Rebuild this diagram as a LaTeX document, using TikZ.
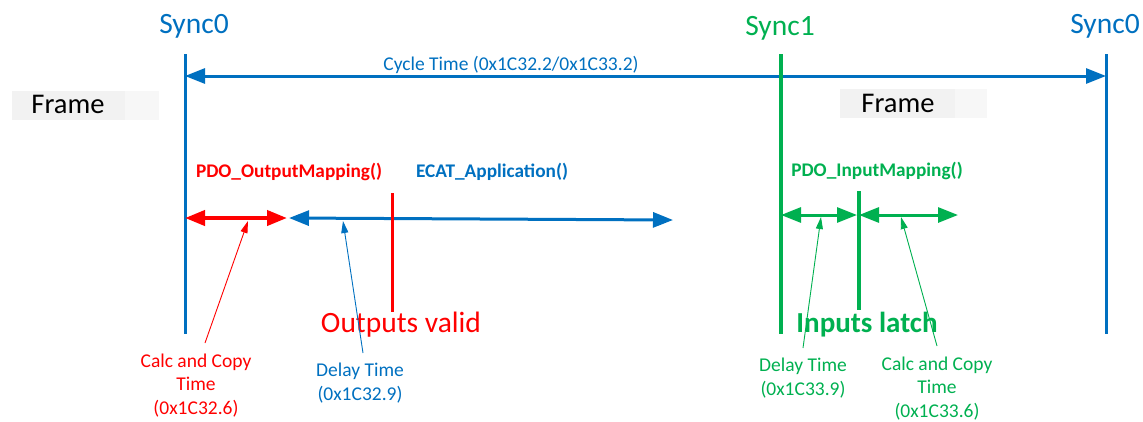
\documentclass[tikz,border=0pt]{standalone}
\usepackage{fontspec}
\setmainfont{Carlito}
\usetikzlibrary{arrows.meta}
\definecolor{syncblue}{HTML}{0070C0}
\definecolor{syncred}{HTML}{FF0000}
\definecolor{syncgreen}{HTML}{00B050}
\begin{document}
\begin{tikzpicture}[x=1pt,y=-1pt,
  synclbl/.style={font=\fontsize{29.5}{32}\selectfont, anchor=base, inner sep=0pt},
  small/.style={font=\fontsize{19.5}{23.5}\selectfont, align=center, anchor=base, inner sep=0pt},
  func/.style={font=\fontsize{19.3}{22}\selectfont\bfseries, anchor=base, inner sep=0pt},
  big/.style={font=\fontsize{29.5}{32}\selectfont, anchor=base, inner sep=0pt},
  span/.style={{Triangle[length=20pt,width=15pt]}-{Triangle[length=20pt,width=15pt]}, line width=3pt},
  pointer/.style={-{Triangle[length=12pt,width=7pt]}, line width=0.9pt},
  framebg/.style={fill=black!5},
  framechk/.style={fill=black!3}]
  \useasboundingbox (0,0) rectangle (1143,421);
  % frames
  \fill[framebg] (12,91) rectangle (125,120); \fill[framechk] (125,91) rectangle (159,120);
  \fill[framebg] (840,89) rectangle (955,118); \fill[framechk] (955,89) rectangle (987,118);
  \node[big, font=\fontsize{28.5}{30}\selectfont] (framel) at (68,113) {Frame};
  \node[big, font=\fontsize{28.5}{30}\selectfont] (framer) at (898,112) {Frame};
  % cycle time
  \coordinate (cyca) at (185,76); \coordinate (cycb) at (1106,76);
  \draw[span, syncblue] (cyca) -- (cycb);
  \node[small, syncblue] (cycle) at (511,70) {Cycle Time (0x1C32.2/0x1C33.2)};
  % sync lines
  \coordinate (s0a) at (185,54); \coordinate (s0b) at (185,334);
  \coordinate (s1a) at (781,54); \coordinate (s1b) at (781,334);
  \coordinate (s2a) at (1106,54); \coordinate (s2b) at (1106,334);
  \draw[syncblue, line width=3pt] (s0a) -- (s0b);
  \draw[syncgreen, line width=3.2pt] (s1a) -- (s1b);
  \draw[syncblue, line width=3pt] (s2a) -- (s2b);
  \node[synclbl, syncblue] (sync0l) at (194,33) {Sync0};
  \node[synclbl, syncgreen] (sync1) at (780,35) {Sync1};
  \node[synclbl, syncblue] (sync0r) at (1105,33) {Sync0};
  % outputs
  \coordinate (oa) at (185,218); \coordinate (ob) at (287,218);
  \coordinate (ea) at (289,218); \coordinate (eb) at (673,220);
  \draw[span, syncred, line width=4pt] (oa) -- (ob);
  \draw[span, syncblue] (ea) -- (eb);
  \coordinate (va) at (392,193); \coordinate (vb) at (392,312);
  \draw[syncred, line width=3pt] (va) -- (vb);
  \node[func, syncred] (outmap) at (289,177) {PDO\_OutputMapping()};
  \node[func, syncblue] (ecat) at (492,177) {ECAT\_Application()};
  \node[big, syncred] (outvalid) at (401,332) {Outputs valid};
  % inputs
  \coordinate (ia) at (781,215); \coordinate (ib) at (857,215);
  \coordinate (ic) at (859,215); \coordinate (id) at (958,215);
  \draw[span, syncgreen] (ia) -- (ib);
  \draw[span, syncgreen] (ic) -- (id);
  \coordinate (la) at (859,191); \coordinate (lb) at (859,310);
  \draw[syncgreen, line width=3.5pt] (la) -- (lb);
  \node[func, syncgreen] (inmap) at (877,176) {PDO\_InputMapping()};
  \node[big, syncgreen, font=\fontsize{29}{32}\selectfont\bfseries] (inlatch) at (867,332) {Inputs latch};
  % time labels (base = last line)
  \node[small, syncred] (calcout) at (196,414) {Calc and Copy\\Time\\(0x1C32.6)};
  \node[small, syncblue] (delayout) at (360,400) {Delay Time\\(0x1C32.9)};
  \node[small, syncgreen] (delayin) at (803,395) {Delay Time\\(0x1C33.9)};
  \node[small, syncgreen] (calcin) at (937,417) {Calc and Copy\\Time\\(0x1C33.6)};
  \coordinate (calcoutp) at (205,343); \coordinate (calcouttip) at (248,221);
  \coordinate (delayoutp) at (363,353); \coordinate (delayouttip) at (343,221);
  \coordinate (delayinp) at (803,348); \coordinate (delayintip) at (821,217);
  \coordinate (calcinp) at (937,346); \coordinate (calcintip) at (901,217);
  \draw[pointer, syncred] (calcoutp) -- (calcouttip);
  \draw[pointer, syncblue] (delayoutp) -- (delayouttip);
  \draw[pointer, syncgreen] (delayinp) -- (delayintip);
  \draw[pointer, syncgreen] (calcinp) -- (calcintip);
\end{tikzpicture}
\end{document}
